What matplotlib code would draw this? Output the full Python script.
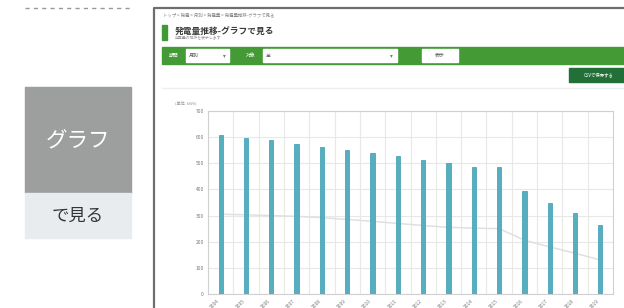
import matplotlib
matplotlib.use("Agg")
import matplotlib.pyplot as plt
from matplotlib.patches import Rectangle

plt.rcParams['font.family'] = ['Noto Sans CJK JP', 'DejaVu Sans']

# data
years = ['2004', '2005', '2006', '2007', '2008', '2009', '2010', '2011',
         '2012', '2013', '2014', '2015', '2016', '2017', '2018', '2019']
generation = [610, 597, 588, 575, 562, 550, 539, 527,
              511, 501, 484, 484, 394, 350, 308, 263]
trend = [305, 303, 300, 297, 292, 285, 278, 270,
         262, 255, 252, 250, 206, 180, 156, 130]
y_ticks = [0, 100, 200, 300, 400, 500, 600, 700]

W, H = 624, 308
fig = plt.figure(figsize=(W / 100, H / 100), dpi=100)

# page layer in pixel coords
bg = fig.add_axes([0, 0, 1, 1])
bg.set_xlim(0, W)
bg.set_ylim(H, 0)
bg.axis('off')

# left side caption
bg.plot([25, 131], [8, 8], color='#999999', lw=1, ls=(0, (3, 3)))
bg.add_patch(Rectangle((25, 87), 106, 106, color='#9d9e9e'))
bg.add_patch(Rectangle((25, 193), 106, 45, color='#e9ecef'))
bg.text(78, 140, 'グラフ', color='white', fontsize=15.5, ha='center', va='center')
bg.text(78, 216, 'で見る', color='#333333', fontsize=12.5, ha='center', va='center')

# screenshot frame
bg.plot([153.5, 153.5, W], [H, 7.5, 7.5], color='#6e6e6e', lw=1.6)
bg.text(163, 15, 'トップ > 発電 > 月別 > 発電量 > 発電量推移-グラフで見る',
        fontsize=3.2, color='#888888', va='center')
bg.add_patch(Rectangle((162, 25), 5, 15, color='#3f9a35'))
bg.text(175, 31, '発電量推移-グラフで見る', fontsize=6.3, weight='bold',
        color='#3a3a3a', va='center')
bg.text(175, 38.5, '発電量の推移を表示します', fontsize=2.8, color='#999999', va='center')

# filter bar
green = '#449a34'
bg.add_patch(Rectangle((162, 47), W - 162, 17, color=green))
bg.add_patch(Rectangle((186, 49), 43, 13, color='white'))
bg.add_patch(Rectangle((263, 49), 134, 13, color='white'))
bg.add_patch(Rectangle((422, 49), 36, 13, color='white'))
bg.text(174, 55.5, '期間', fontsize=3.5, color='white', ha='center', va='center')
bg.text(189, 55.5, '月別', fontsize=3.5, color='#555555', va='center')
bg.text(224, 55.5, '▾', fontsize=4, color='#777777', ha='center', va='center')
bg.text(251, 55.5, '対象', fontsize=3.5, color='white', ha='center', va='center')
bg.text(266, 55.5, '全', fontsize=3.5, color='#555555', va='center')
bg.text(391, 55.5, '▾', fontsize=4, color='#777777', ha='center', va='center')
bg.text(440, 55.5, '表示', fontsize=3.5, color='#555555', ha='center', va='center')

bg.add_patch(Rectangle((569, 68), W - 569, 14, color='#226f38'))
bg.text(599, 75, 'CSVで保存する', fontsize=3.2, color='white', ha='center', va='center')
bg.plot([162, W], [88, 88], color='#eeeeee', lw=1)
bg.text(175, 103, '(単位: kWh)', fontsize=3, color='#999999', va='center')

# chart
ax = fig.add_axes([208 / W, (H - 294) / H, 405 / W, 183 / H])
x = list(range(len(years)))
ax.bar(x, generation, width=0.17, color='#55afc1', edgecolor='#3a9caf',
       linewidth=0.5, zorder=3)
ax.plot(x, trend, color='#e0e0e0', lw=1.1, zorder=2)
ax.set_xlim(-0.5, len(years) - 0.5)
ax.set_ylim(0, 700)
ax.set_yticks(y_ticks)
ax.set_yticklabels([str(v) for v in y_ticks], fontsize=3.5, color='#777777')
ax.set_xticks(x)
ax.set_xticklabels(years, fontsize=3.5, color='#777777', rotation=45, ha='right')
ax.set_xticks([i - 0.5 for i in range(1, len(years))], minor=True)
ax.grid(axis='y', color='#e8e8e8', lw=0.8, zorder=0)
ax.grid(axis='x', which='minor', color='#e8e8e8', lw=0.8, zorder=0)
ax.tick_params(length=0, pad=3)
ax.tick_params(which='minor', length=0)
for s in ax.spines.values():
    s.set_color('#d0d0d0')
    s.set_linewidth(0.8)

fig.savefig('out.png', dpi=100)
